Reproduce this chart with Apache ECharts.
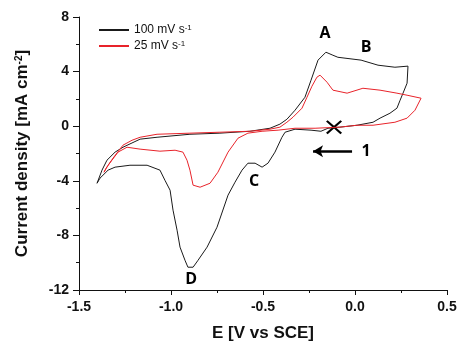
<!DOCTYPE html>
<html>
<head>
<meta charset="utf-8">
<script src="https://cdn.jsdelivr.net/npm/echarts@6/dist/echarts.min.js"></script>
<style>
  html, body { margin: 0; padding: 0; background: #fff; }
  #chart { width: 457px; height: 344px; }
</style>
</head>
<body>
<div id="chart"></div>
<script>
// 100 mV/s loop: from the positive vertex, cathodic sweep then anodic sweep back
const fastPotential = [
  0.288, 0.283, 0.261, 0.245, 0.228, 0.190, 0.136, 0.098, 0.011, -0.082, -0.147, -0.185, -0.239, -0.326,
  -0.380, -0.397, -0.435, -0.473, -0.505, -0.543, -0.582, -0.614, -0.652, -0.690, -0.750, -0.804, -0.853,
  -0.880, -0.908, -0.924, -0.951, -0.967, -0.989, -1.005, -1.033, -1.060, -1.130, -1.223, -1.304, -1.342,
  -1.386, -1.402,
  -1.375, -1.348, -1.304, -1.261, -1.168, -1.076, -0.897, -0.734, -0.571, -0.462, -0.408, -0.370, -0.326,
  -0.272, -0.239, -0.201, -0.158, -0.120, -0.093, 0.033, 0.125, 0.217, 0.288
];
const fastCurrent = [
  4.40, 3.15, 2.42, 1.90, 1.32, 0.95, 0.59, 0.29, 0.07, -0.07, -0.15, -0.37, -0.29, -0.22,
  -0.44, -0.81, -1.90, -2.71, -3.00, -2.71, -2.71, -3.22, -4.10, -5.05, -7.40, -8.86, -9.82,
  -10.33, -10.33, -9.82, -8.86, -7.62, -6.15, -4.69, -3.96, -3.22, -2.86, -2.86, -3.00, -3.22,
  -3.81, -4.18,
  -3.22, -2.49, -1.90, -1.54, -0.95, -0.81, -0.59, -0.51, -0.37, -0.15, 0.15, 0.51, 1.17,
  2.12, 3.37, 4.84, 5.42, 5.20, 5.05, 4.84, 4.47, 4.32, 4.40
];

// 25 mV/s loop, same order
const slowPotential = [
  0.359, 0.326, 0.283, 0.217, 0.098, 0.011, -0.082, -0.217, -0.326, -0.418, -0.505, -0.582, -0.636,
  -0.690, -0.745, -0.788, -0.842, -0.880, -0.897, -0.913, -0.935, -0.978, -1.060, -1.168, -1.239,
  -1.288, -1.321, -1.353, -1.364,
  -1.342, -1.315, -1.261, -1.212, -1.168, -1.076, -0.897, -0.734, -0.571, -0.462, -0.408, -0.370,
  -0.337, -0.288, -0.261, -0.234, -0.207, -0.190, -0.152, -0.120, -0.043, 0.043, 0.136, 0.228,
  0.283, 0.359
];
const slowCurrent = [
  2.05, 1.17, 0.59, 0.29, 0.07, 0.07, -0.07, -0.15, -0.15, -0.29, -0.37, -0.51, -0.88,
  -1.90, -3.37, -4.18, -4.47, -4.32, -3.22, -2.49, -1.90, -1.76, -1.83, -1.68, -1.54,
  -1.90, -2.49, -3.08, -3.37,
  -2.86, -2.34, -1.39, -1.03, -0.81, -0.59, -0.51, -0.44, -0.37, -0.22, -0.07, 0.29,
  0.66, 1.32, 2.12, 2.93, 3.59, 3.74, 3.22, 2.64, 2.42, 2.78, 2.64, 2.42,
  2.27, 2.05
];

const seriesNames = ["100 mV s-1", "25 mV s-1"];

// peak letters and the sweep number
const noteNames = ["A", "B", "C", "D", "1"];
const notePotential = [-0.163, 0.060, -0.549, -0.891, 0.060];
const noteCurrent = [6.81, 5.79, -4.03, -11.2, -1.83];

// start of the sweep and its direction arrow
const startPoint = [-0.114, -0.07];
const arrowFrom = [-0.016, -1.83];
const arrowTo = [-0.228, -1.83];

const zip = (xs, ys) => xs.map((x, i) => [x, ys[i]]);

const chart = echarts.init(document.getElementById("chart"));

const tickFont = { fontFamily: "Liberation Sans", fontWeight: "bold", fontSize: 14, color: "#111" };
const nameFont = {
  fontFamily: "Liberation Sans", fontWeight: "bold", fontSize: 17, color: "#111",
  rich: { sup: { fontFamily: "Liberation Sans", fontWeight: "bold", fontSize: 10, verticalAlign: "top", lineHeight: 10 } },
};

const options = {
  animation: false,
  grid: { left: 79, right: 10, top: 17, bottom: 54, outerBoundsMode: "none" },
  legend: {
    data: seriesNames,
    orient: "vertical",
    left: 93,
    top: 19,
    itemWidth: 30,
    itemHeight: 14,
    itemGap: 4,
    itemStyle: { opacity: 0 },
    textStyle: {
      fontFamily: "Liberation Sans", fontSize: 12, color: "#111",
      rich: { sup: { fontFamily: "Liberation Sans", fontSize: 8, verticalAlign: "top", lineHeight: 8 } },
    },
    formatter: (name) => name.replace("-1", "{sup|-1}"),
  },
  xAxis: {
    type: "value",
    min: -1.5,
    max: 0.5,
    interval: 0.5,
    name: "E [V vs SCE]",
    nameLocation: "middle",
    nameGap: 35,
    nameTextStyle: nameFont,
    axisLine: { onZero: false, lineStyle: { color: "#111", width: 1 } },
    axisTick: { length: 5, lineStyle: { color: "#111" } },
    minorTick: { show: true, splitNumber: 2, length: 3, lineStyle: { color: "#111" } },
    axisLabel: { ...tickFont, margin: 10, formatter: (v) => v.toFixed(1) },
    splitLine: { show: false },
  },
  yAxis: {
    type: "value",
    min: -12,
    max: 8,
    interval: 4,
    name: "Current density [mA cm{sup|-2}]",
    nameLocation: "middle",
    nameGap: 48,
    nameTextStyle: nameFont,
    axisLine: { show: true, onZero: false, lineStyle: { color: "#111", width: 1 } },
    axisTick: { show: true, length: 6, lineStyle: { color: "#111" } },
    minorTick: { show: true, splitNumber: 2, length: 3, lineStyle: { color: "#111" } },
    axisLabel: { ...tickFont, margin: 10 },
    splitLine: { show: false },
  },
  series: [
    {
      name: seriesNames[0],
      type: "line",
      symbol: "none",
      color: "#1a1a1a",
      lineStyle: { width: 1 },
      data: zip(fastPotential, fastCurrent),
    },
    {
      name: seriesNames[1],
      type: "line",
      symbol: "none",
      color: "#e8232a",
      lineStyle: { width: 1 },
      data: zip(slowPotential, slowCurrent),
    },
    {
      name: "notes",
      type: "scatter",
      symbolSize: 0,
      silent: true,
      itemStyle: { opacity: 1 },
      data: zip(notePotential, noteCurrent),
      label: {
        show: true,
        position: "inside",
        fontFamily: "Open Sans",
        fontWeight: "bold",
        fontSize: 16,
        color: "#000",
        formatter: (p) => noteNames[p.dataIndex],
      },
      markLine: {
        silent: true,
        symbol: ["none", "arrow"],
        symbolSize: [9, 10],
        label: { show: false },
        lineStyle: { color: "#000", width: 2.5, type: "solid" },
        data: [[{ coord: arrowFrom }, { coord: arrowTo }]],
      },
    },
    {
      name: "start",
      type: "scatter",
      silent: true,
      symbol: "path://M0,2 L2,0 L10,8 L18,0 L20,2 L12,10 L20,18 L18,20 L10,12 L2,20 L0,18 L8,10 Z",
      symbolSize: [16, 14],
      itemStyle: { color: "#000", opacity: 1 },
      data: [startPoint],
    },
  ],
};

chart.setOption(options);
</script>
</body>
</html>
